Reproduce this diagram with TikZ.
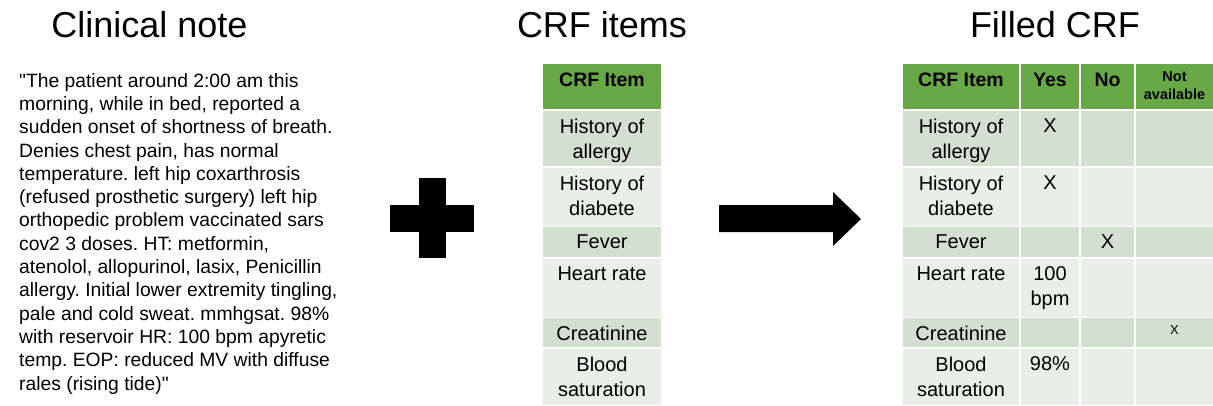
\documentclass[tikz,border=0pt]{standalone}
\usepackage{fontspec}
\setmainfont{Liberation Sans}[Ligatures=TeXOff]
\frenchspacing
\definecolor{hdr}{HTML}{68A847}
\definecolor{rowa}{HTML}{D3DFD0}
\definecolor{rowb}{HTML}{E9EFE8}
\tikzset{
  cellbox/.style={draw=none, inner sep=0pt, outer sep=0pt, anchor=north west},
  celltxt/.style={anchor=north, inner sep=0pt, align=center, font=\fontsize{20}{25}\selectfont},
  hdrtxt/.style={anchor=north, inner sep=0pt, align=center, font=\fontsize{19.5}{22}\selectfont\bfseries},
  natxt/.style={anchor=north, inner sep=0pt, align=center, font=\fontsize{14.5}{18}\selectfont\bfseries},
  smallx/.style={anchor=north, inner sep=0pt, font=\fontsize{13}{13}\selectfont},
  titletxt/.style={anchor=base, inner sep=0pt, font=\fontsize{36}{40}\selectfont},
  notetxt/.style={anchor=north west, inner sep=0pt, align=left, font=\fontsize{19.3}{23.3}\selectfont},
  blockshape/.style={fill=black, draw=none}
}
\begin{document}
\begin{tikzpicture}[x=1pt,y=-1pt]
\fill[white] (0,0) rectangle (1213,405);
\useasboundingbox (0,0) rectangle (1213,405);

% titles
\node[titletxt] (t1) at (149.5,37) {Clinical note};
\node[titletxt] (t2) at (602,37) {CRF items};
\node[titletxt] (t3) at (1055,37) {Filled CRF};

% clinical note
\node[notetxt] (note) at (19,73) {"The patient around 2:00 am this\\
morning, while in bed, reported a\\
sudden onset of shortness of breath.\\
Denies chest pain, has normal\\
temperature. left hip coxarthrosis\\
(refused prosthetic surgery) left hip\\
orthopedic problem vaccinated sars\\
cov2 3 doses. HT: metformin,\\
atenolol, allopurinol, lasix, Penicillin\\
allergy. Initial lower extremity tingling,\\
pale and cold sweat. mmhgsat. 98\%\\
with reservoir HR: 100 bpm apyretic\\
temp. EOP: reduced MV with diffuse\\
rales (rising tide)"};

% plus sign
\fill[blockshape] (419,178) rectangle (446,258);
\fill[blockshape] (390,205) rectangle (474,232);

% block arrow
\fill[blockshape] (719,205) -- (833,205) -- (833,192) -- (861,219) -- (833,246) -- (833,232) -- (719,232) -- cycle;

% table cells
\foreach \i/\t/\b/\c in {0/64/109/hdr,1/111/166/rowa,2/168/225.5/rowb,3/227/257/rowa,4/259/316.5/rowb,5/318/347/rowa,6/349/405/rowb}{
  \pgfmathsetmacro\hhh{\b-\t}
  \node[cellbox, fill=\c, minimum width=118pt, minimum height=\hhh pt] (a\i) at (543,\t) {};
  \foreach \j/\l/\r in {1/903/1019,2/1021/1079,3/1081/1134,4/1136/1213}{
    \pgfmathsetmacro\www{\r-\l}
    \node[cellbox, fill=\c, minimum width=\www pt, minimum height=\hhh pt] (f\i\j) at (\l,\t) {};
  }
}

% CRF items text
\node[hdrtxt] (ha) at ([yshift=-9pt]a0.north) {CRF Item};
\node[celltxt] (ta1) at ([yshift=-7.6pt]a1.north) {History of\\allergy};
\node[celltxt] (ta2) at ([yshift=-7.6pt]a2.north) {History of\\diabete};
\node[celltxt] (ta3) at ([yshift=-7.6pt]a3.north) {Fever};
\node[celltxt] (ta4) at ([yshift=-7.6pt]a4.north) {Heart rate};
\node[celltxt] (ta5) at ([yshift=-7.6pt]a5.north) {Creatinine};
\node[celltxt] (ta6) at ([yshift=-7.6pt]a6.north) {Blood\\saturation};

% Filled CRF text
\node[hdrtxt] (hf1) at ([yshift=-9pt]f01.north) {CRF Item};
\node[hdrtxt] (hf2) at ([yshift=-9pt]f02.north) {Yes};
\node[hdrtxt] (hf3) at ([yshift=-9pt]f03.north) {No};
\node[natxt] (hf4) at ([yshift=-7.5pt]f04.north) {Not\\available};

\node[celltxt] (tf1) at ([yshift=-7.6pt]f11.north) {History of\\allergy};
\node[celltxt] (tf2) at ([yshift=-7.6pt]f21.north) {History of\\diabete};
\node[celltxt] (tf3) at ([yshift=-7.6pt]f31.north) {Fever};
\node[celltxt] (tf4) at ([yshift=-7.6pt]f41.north) {Heart rate};
\node[celltxt] (tf5) at ([yshift=-7.6pt]f51.north) {Creatinine};
\node[celltxt] (tf6) at ([yshift=-7.6pt]f61.north) {Blood\\saturation};

\node[celltxt] (x1) at ([yshift=-7.6pt]f12.north) {X};
\node[celltxt] (x2) at ([yshift=-7.6pt]f22.north) {X};
\node[celltxt] (x3) at ([yshift=-7.6pt]f33.north) {X};
\node[celltxt] (v4) at ([yshift=-7.6pt]f42.north) {100\\bpm};
\node[smallx] (x5) at ([yshift=-7.7pt]f54.north) {X};
\node[celltxt] (v6) at ([yshift=-7.6pt]f62.north) {98\%};
\end{tikzpicture}
\end{document}
